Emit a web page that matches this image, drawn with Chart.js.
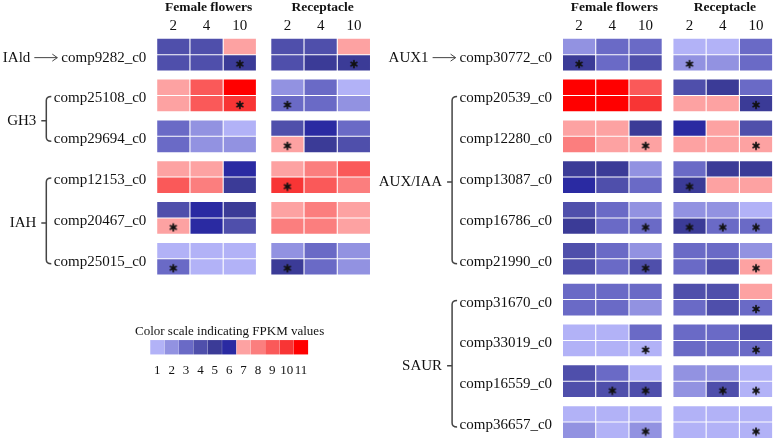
<!DOCTYPE html>
<html>
<head>
<meta charset="utf-8">
<script src="https://cdn.jsdelivr.net/npm/chart.js@4/dist/chart.umd.min.js"></script>
<style>
  html, body { margin: 0; padding: 0; background: #fff; }
  #wrap { width: 778px; height: 445px; }
</style>
</head>
<body>
<div id="wrap"><canvas id="heat" width="778" height="445"></canvas></div>
<script>
// --- data: FPKM colour class (1-11) per cell ---
// columns: Female flowers 2/4/10, Receptacle 2/4/10; two rows per gene
const tissues = ['Female flowers', 'Receptacle'];
const days = ['2', '4', '10'];

const leftGenes = ['comp9282_c0', 'comp25108_c0', 'comp29694_c0', 'comp12153_c0', 'comp20467_c0', 'comp25015_c0'];
const leftValues = [
  [[4, 4, 7, 4, 4, 7], [4, 4, 5, 4, 5, 5]],
  [[7, 9, 11, 2, 3, 1], [7, 9, 10, 3, 3, 2]],
  [[3, 2, 1, 4, 6, 3], [3, 2, 2, 7, 5, 4]],
  [[7, 7, 6, 7, 8, 9], [9, 8, 5, 10, 9, 8]],
  [[4, 6, 5, 7, 8, 7], [7, 6, 4, 8, 8, 7]],
  [[1, 1, 1, 2, 3, 2], [3, 1, 1, 5, 3, 2]]
];
// significant cells: [gene, row, column]
const leftStars = [[0, 1, 2], [0, 1, 5], [1, 1, 2], [1, 1, 3], [2, 1, 3], [3, 1, 3], [4, 1, 0], [5, 1, 0], [5, 1, 3]];
const leftGroups = [
  { name: 'IAld', from: 0, to: 0, arrow: true },
  { name: 'GH3', from: 1, to: 2 },
  { name: 'IAH', from: 3, to: 5 }
];

const rightGenes = ['comp30772_c0', 'comp20539_c0', 'comp12280_c0', 'comp13087_c0', 'comp16786_c0',
  'comp21990_c0', 'comp31670_c0', 'comp33019_c0', 'comp16559_c0', 'comp36657_c0'];
const rightValues = [
  [[2, 3, 3, 1, 1, 3], [5, 3, 4, 2, 2, 3]],
  [[11, 11, 9, 4, 5, 3], [11, 11, 10, 7, 7, 5]],
  [[7, 7, 5, 6, 7, 4], [8, 7, 7, 7, 7, 7]],
  [[5, 5, 2, 3, 5, 5], [6, 4, 3, 5, 7, 7]],
  [[4, 3, 2, 2, 2, 1], [5, 3, 3, 5, 3, 3]],
  [[4, 3, 2, 3, 3, 2], [4, 3, 4, 3, 4, 7]],
  [[3, 3, 3, 4, 4, 7], [3, 3, 2, 3, 4, 3]],
  [[1, 1, 3, 3, 3, 4], [1, 1, 1, 3, 3, 3]],
  [[4, 3, 1, 2, 2, 1], [4, 4, 4, 2, 4, 1]],
  [[1, 1, 1, 1, 1, 1], [2, 1, 2, 1, 1, 1]]
];
const rightStars = [[0, 1, 0], [0, 1, 3], [1, 1, 5], [2, 1, 2], [2, 1, 5], [3, 1, 3],
  [4, 1, 2], [4, 1, 3], [4, 1, 4], [4, 1, 5], [5, 1, 2], [5, 1, 5], [6, 1, 5],
  [7, 1, 2], [7, 1, 5], [8, 1, 1], [8, 1, 2], [8, 1, 4], [8, 1, 5], [9, 1, 2], [9, 1, 5]];
const rightGroups = [
  { name: 'AUX1', from: 0, to: 0, arrow: true },
  { name: 'AUX/IAA', from: 1, to: 5 },
  { name: 'SAUR', from: 6, to: 9 }
];

const scaleClasses = [1, 2, 3, 4, 5, 6, 7, 8, 9, 10, 11];
const palette = ['#b2b2f7', '#9292e1', '#6a6ac6', '#4f4fab', '#3b3b97', '#2a2aa2',
  '#fda2a2', '#fb7e7e', '#fa5959', '#f83535', '#ff0000'];

// --- layout (scale units: one column / one row) ---
const X_MIN = -5.06, X_MAX = 18.03, Y_MIN = -2.04, Y_MAX = 24.6;
const GENE_STEP = 2.5;
const panels = [
  { genes: leftGenes, values: leftValues, stars: leftStars, groups: leftGroups, x0: 0, recShift: 3.43 },
  { genes: rightGenes, values: rightValues, stars: rightStars, groups: rightGroups, x0: 12.2, recShift: 3.32 }
];
const LEG_X0 = -0.48, LEG_STEP = 0.432, LEG_TOP = 18.5, LEG_BOTTOM = 19.34;
const SERIF = '"Liberation Serif", "Times New Roman", serif';

function colPositions(p) {
  return [0, 1, 2, 0, 1, 2].map((k, j) => p.x0 + k + (j > 2 ? p.recShift : 0));
}

const cells = [];
const starPoints = [];
panels.forEach(p => {
  const cols = colPositions(p);
  p.values.forEach((gene, i) => {
    gene.forEach((row, r) => {
      row.forEach((v, j) => {
        const top = i * GENE_STEP + r;
        cells.push({ x: cols[j], y: [top + 0.05, top + 0.95], v: v });
      });
    });
  });
  p.stars.forEach(([g, r, j]) => starPoints.push({ x: cols[j], y: g * GENE_STEP + r + 0.58 }));
});
const legendCells = scaleClasses.map((c, i) => ({ x: LEG_X0 + i * LEG_STEP, y: [LEG_TOP, LEG_BOTTOM], v: c }));

// asterisk marker
const star = document.createElement('canvas');
star.width = 10; star.height = 10;
(function () {
  const c = star.getContext('2d');
  c.strokeStyle = '#111';
  c.lineWidth = 1.7;
  c.lineCap = 'round';
  for (let a = 0; a < 3; a++) {
    const ang = Math.PI / 2 + a * Math.PI / 3;
    c.beginPath();
    c.moveTo(5 - 3.4 * Math.cos(ang), 5 - 3.4 * Math.sin(ang));
    c.lineTo(5 + 3.4 * Math.cos(ang), 5 + 3.4 * Math.sin(ang));
    c.stroke();
  }
})();

// --- HELPER: text, brackets, arrows ---
const labelPlugin = {
  id: 'labels',
  afterDraw(chart) {
    const ctx = chart.ctx;
    const xs = chart.scales.x, ys = chart.scales.y;
    ctx.save();
    ctx.fillStyle = '#111';
    ctx.textBaseline = 'middle';

    panels.forEach(p => {
      const cols = colPositions(p);
      ctx.textAlign = 'center';
      ctx.font = 'bold 13.5px ' + SERIF;
      tissues.forEach((t, k) => ctx.fillText(t, xs.getPixelForValue(cols[k * 3 + 1]) + 2, 8));
      ctx.font = '15px ' + SERIF;
      cols.forEach((c, j) => ctx.fillText(days[j % 3], xs.getPixelForValue(c), 26));

      const labelRight = xs.getPixelForValue(cols[0]) - 27;
      const geneY = i => ys.getPixelForValue(i * GENE_STEP + 1) + 3;
      ctx.textAlign = 'right';
      p.genes.forEach((g, i) => ctx.fillText(g, labelRight, geneY(i)));

      const bx = labelRight - 100;
      ctx.strokeStyle = '#444';
      p.groups.forEach(grp => {
        if (grp.arrow) {
          const y = geneY(grp.from);
          const end = labelRight - ctx.measureText(p.genes[grp.from]).width - 4;
          const start = end - 23;
          ctx.lineWidth = 1;
          ctx.beginPath();
          ctx.moveTo(start, y); ctx.lineTo(end, y);
          ctx.moveTo(end - 5, y - 3.5); ctx.lineTo(end, y); ctx.lineTo(end - 5, y + 3.5);
          ctx.stroke();
          ctx.fillText(grp.name, start - 4, y);
        } else {
          const top = geneY(grp.from) - 2;
          const bottom = geneY(grp.to) + 2;
          const mid = (top + bottom) / 2 + 2;
          ctx.lineWidth = 1.5;
          ctx.beginPath();
          ctx.moveTo(bx + 5, top);
          ctx.quadraticCurveTo(bx, top, bx, top + 4);
          ctx.lineTo(bx, bottom - 4);
          ctx.quadraticCurveTo(bx, bottom, bx + 5, bottom);
          ctx.moveTo(bx, mid); ctx.lineTo(bx - 5, mid);
          ctx.stroke();
          ctx.fillText(grp.name, bx - 10, mid);
        }
      });
    });

    // colour scale caption and numbers
    ctx.textAlign = 'left';
    ctx.font = '13px ' + SERIF;
    ctx.fillText('Color scale indicating FPKM values', 135, 332);
    ctx.textAlign = 'center';
    scaleClasses.forEach((c, i) => ctx.fillText(String(c), xs.getPixelForValue(LEG_X0 + i * LEG_STEP), 371));
    ctx.restore();
  }
};

new Chart(document.getElementById('heat'), {
  type: 'bar',
  data: {
    datasets: [
      {
        type: 'scatter',
        data: starPoints,
        pointStyle: star,
        showLine: false,
        order: 0
      },
      {
        data: cells,
        backgroundColor: c => c.raw ? palette[c.raw.v - 1] : '#fff',
        barThickness: 31.5,
        grouped: false,
        borderWidth: 0,
        order: 1
      },
      {
        data: legendCells,
        backgroundColor: c => c.raw ? palette[c.raw.v - 1] : '#fff',
        barThickness: 13.5,
        grouped: false,
        borderWidth: 0,
        order: 1
      }
    ]
  },
  options: {
    responsive: false,
    animation: false,
    layout: { padding: 0 },
    plugins: { legend: { display: false }, tooltip: { enabled: false } },
    scales: {
      x: { type: 'linear', display: false, min: X_MIN, max: X_MAX, offset: false },
      y: { type: 'linear', display: false, min: Y_MIN, max: Y_MAX, reverse: true }
    }
  },
  plugins: [labelPlugin]
});
</script>
</body>
</html>
